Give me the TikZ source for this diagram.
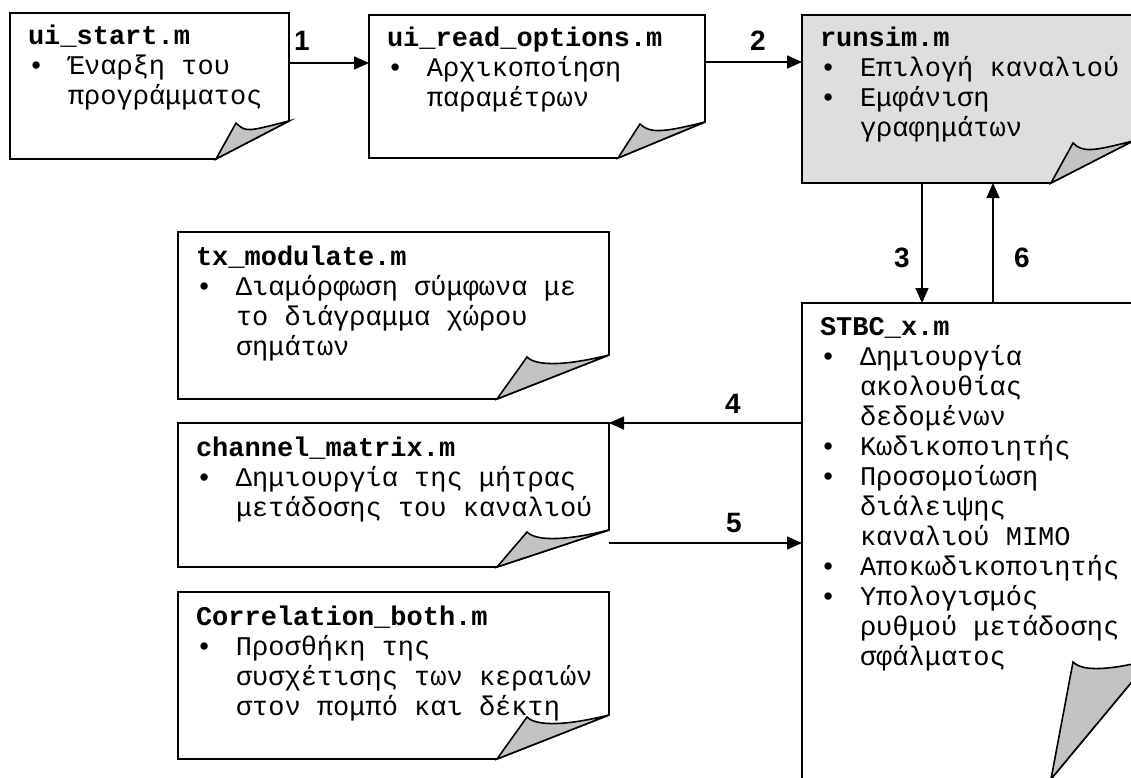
\documentclass[tikz,border=0pt]{standalone}
\usepackage{fontspec}
\setmonofont{Liberation Mono}
\newfontfamily\labfont{Liberation Sans}
\usetikzlibrary{arrows.meta}
\definecolor{foldgray}{RGB}{195,195,195}
\definecolor{notegray}{RGB}{222,222,222}
\tikzset{
  boxnode/.style={rectangle, inner sep=0pt, outer sep=0pt},
  boxline/.style={draw=black, line width=1.6pt, line join=miter},
  txt/.style={anchor=base west, inner sep=0pt, outer sep=0pt, font=\ttfamily\fontsize{27}{30}\selectfont},
  lab/.style={font=\labfont\bfseries\fontsize{28}{28}\selectfont, inner sep=0pt},
  arr/.style={draw=black, line width=1.5pt, -{Triangle[length=15pt,width=13pt]}}
}
% name, L, T, R, B, fold width, fold height, apex dx, fill
\newcommand\notebox[9]{%
  \node[boxnode, minimum width={#4pt-#2pt}, minimum height={#5pt-#3pt}] (#1) at ({(#2+#4)/2},{(#3+#5)/2}) {};
  \draw[boxline, fill=#9] (#1.north west) -- (#1.north east) -- ([yshift=#7pt]#1.south east) -- ([xshift=-#6pt]#1.south east) -- (#1.south west) -- cycle;
  \draw[boxline, fill=foldgray] ([xshift=-#6pt]#1.south east) -- ([xshift={-#6pt+#8pt}, yshift={#7pt-2pt}]#1.south east) .. controls +(10,10) and +(-40,10) .. ([yshift=#7pt]#1.south east) -- cycle;
}
\newcommand\bul{\makebox[40pt][l]{•}}
\newcommand\ind{\hspace*{40pt}}
\newcommand\bxlines[1]{\vtop{\baselineskip=30pt\lineskiplimit=-100pt\lineskip=0pt #1}}
\newcommand\bxl[1]{\hbox{#1}}
\begin{document}
\begin{tikzpicture}[x=1pt,y=-1pt]
\useasboundingbox (0,0) rectangle (1131,778);
\clip (0,0) rectangle (1131,778);
\fill[white] (0,0) rectangle (1131,778);

\notebox{uistart}{10}{13}{289}{159}{73}{38}{20}{white}
\notebox{uiread}{369}{15}{705}{158}{87}{36}{22}{white}
\notebox{runsim}{802}{15}{1133}{183}{82}{42}{22}{notegray}
\notebox{stbc}{802}{303}{1150}{779}{99}{119}{22}{white}
\notebox{txmod}{178}{232}{609}{399}{112}{44}{30}{white}
\notebox{chan}{178}{423}{609}{567}{112}{37}{30}{white}
\notebox{corr}{178}{592}{609}{759}{112}{44}{30}{white}

\node[txt] (t1) at ([xshift=18pt, yshift=-32pt]uistart.north west) {\bxlines{\bxl{\textbf{ui\_start.m}}\bxl{\bul Έναρξη του}\bxl{\ind προγράμματος}}};
\node[txt] (t2) at ([xshift=18pt, yshift=-32pt]uiread.north west) {\bxlines{\bxl{\textbf{ui\_read\_options.m}}\bxl{\bul Αρχικοποίηση}\bxl{\ind παραμέτρων}}};
\node[txt] (t3) at ([xshift=18pt, yshift=-32pt]runsim.north west) {\bxlines{\bxl{\textbf{runsim.m}}\bxl{\bul Επιλογή καναλιού}\bxl{\bul Εμφάνιση}\bxl{\ind γραφημάτων}}};
\node[txt] (t4) at ([xshift=18pt, yshift=-32pt]stbc.north west) {\bxlines{\bxl{\textbf{STBC\_x.m}}\bxl{\bul Δημιουργία}\bxl{\ind ακολουθίας}\bxl{\ind δεδομένων}\bxl{\bul Κωδικοποιητής}\bxl{\bul Προσομοίωση}\bxl{\ind διάλειψης}\bxl{\ind καναλιού MIMO}\bxl{\bul Αποκωδικοποιητής}\bxl{\bul Υπολογισμός}\bxl{\ind ρυθμού μετάδοσης}\bxl{\ind σφάλματος}}};
\node[txt] (t5) at ([xshift=18pt, yshift=-33pt]txmod.north west) {\bxlines{\bxl{\textbf{tx\_modulate.m}}\bxl{\bul Διαμόρφωση σύμφωνα με}\bxl{\ind το διάγραμμα χώρου}\bxl{\ind σημάτων}}};
\node[txt] (t6) at ([xshift=18pt, yshift=-33pt]chan.north west) {\bxlines{\bxl{\textbf{channel\_matrix.m}}\bxl{\bul Δημιουργία της μήτρας}\bxl{\ind μετάδοσης του καναλιού}}};
\node[txt] (t7) at ([xshift=18pt, yshift=-33pt]corr.north west) {\bxlines{\bxl{\textbf{Correlation\_both.m}}\bxl{\bul Προσθήκη της}\bxl{\ind συσχέτισης των κεραιών}\bxl{\ind στον πομπό και δέκτη}}};

\draw[arr] ([yshift=-50pt]uistart.north east) -- ([yshift=-48pt]uiread.north west);
\draw[arr] ([yshift=-47pt]uiread.north east) -- ([yshift=-47pt]runsim.north west);
\draw[arr] ([xshift=120pt]runsim.south west) -- ([xshift=120pt]stbc.north west);
\draw[arr] ([xshift=191pt]stbc.north west) -- ([xshift=191pt]runsim.south west);
\draw[arr] ([yshift=-120pt]stbc.north west) -- (chan.north east);
\draw[arr] ([yshift=-120pt]chan.north east) -- ([yshift=-240pt]stbc.north west);

\node[lab] (l1) at (302,41) {1};
\node[lab] (l2) at (758,41) {2};
\node[lab] (l3) at (902,258) {3};
\node[lab] (l6) at (1022,258) {6};
\node[lab] (l4) at (733,404) {4};
\node[lab] (l5) at (734,523) {5};
\end{tikzpicture}
\end{document}
